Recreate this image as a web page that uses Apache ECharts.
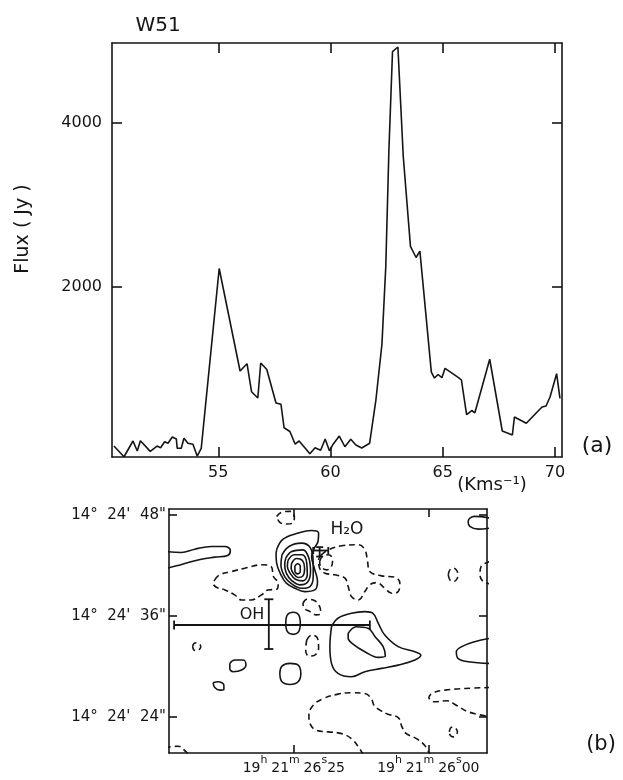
<!DOCTYPE html>
<html>
<head>
<meta charset="utf-8">
<title>W51</title>
<script src="https://cdn.jsdelivr.net/npm/echarts@6/dist/echarts.min.js"></script>
<style>
  html, body { margin: 0; padding: 0; background: #fff; }
  #main { width: 623px; height: 780px; }
</style>
</head>
<body>
<div id="main"></div>
<script type="text/javascript">
// ---- (a) spectrum: velocity (km/s) vs flux (Jy) ----
var velocity = [50.35,50.80,51.20,51.39,51.53,51.97,52.27,52.43,52.61,52.76,
                52.95,53.13,53.17,53.35,53.47,53.65,53.87,54.06,54.24,55.04,
                55.97,56.28,56.48,56.76,56.89,57.16,57.57,57.79,57.93,58.19,
                58.42,58.60,59.08,59.31,59.56,59.76,59.95,60.09,60.15,60.39,
                60.64,60.90,61.13,61.39,61.74,62.02,62.29,62.46,62.60,62.76,
                63.00,63.24,63.56,63.81,63.98,64.49,64.63,64.79,64.96,65.10,
                65.70,65.83,66.06,66.29,66.43,67.09,67.65,68.10,68.19,68.72,
                69.42,69.60,69.78,70.07,70.22];
var flux = [61,-70,122,0,126,-4,61,40,113,94,
            171,146,33,33,155,94,82,-61,33,2226,
            976,1065,723,646,1073,994,585,571,284,238,
            85,122,-33,39,9,146,2,73,94,183,
            52,143,73,37,94,622,1305,2248,3671,4870,
            4927,3589,2496,2360,2437,963,890,933,894,1008,
            896,866,444,494,466,1119,244,195,415,338,
            537,549,662,943,643];
var velTicks = [55, 60, 65, 70];
var fluxTicks = [2000, 4000];

// ---- (b) map: RA seconds (19h21m..s) vs Dec arcsec (14d24'..") ----
var raTicks = [26.25, 26.00];
var decTicks = [24, 36, 48];

// solid (positive) contours, closed
var solidClosed = [
  [[26.282,43.83],[26.270,45.10],[26.242,45.82],[26.217,46.13],[26.204,45.82],[26.205,44.83],[26.212,44.03],[26.217,43.04],[26.211,41.45],[26.206,40.06],[26.211,39.07],[26.230,38.87],[26.248,39.27],[26.264,39.87],[26.274,40.86],[26.282,42.25],[26.283,43.24]],
  [[26.272,43.24],[26.259,44.23],[26.236,44.63],[26.219,44.03],[26.214,42.25],[26.214,40.66],[26.220,39.47],[26.236,39.27],[26.254,39.79],[26.267,40.66],[26.274,42.05]],
  [[26.265,42.84],[26.254,43.63],[26.233,43.83],[26.222,42.84],[26.219,41.25],[26.225,39.94],[26.239,39.67],[26.254,40.18],[26.264,41.06],[26.267,42.05]],
  [[26.261,42.56],[26.249,43.24],[26.235,43.24],[26.226,42.25],[26.225,40.86],[26.233,40.14],[26.247,40.34],[26.257,41.06],[26.262,41.85]],
  [[26.254,42.25],[26.245,42.80],[26.234,42.56],[26.230,41.65],[26.233,40.74],[26.242,40.54],[26.251,41.06],[26.255,41.65]],
  [[26.248,41.93],[26.243,42.17],[26.238,41.85],[26.238,41.25],[26.243,40.98],[26.248,41.33]],
  [[26.265,35.10],[26.262,36.10],[26.251,36.41],[26.241,36.10],[26.238,35.10],[26.241,34.11],[26.251,33.79],[26.262,34.11]],
  [[26.180,34.70],[26.168,35.70],[26.143,36.29],[26.118,36.49],[26.103,36.29],[26.093,35.10],[26.081,33.71],[26.056,32.33],[26.025,31.73],[26.014,31.33],[26.025,30.74],[26.056,30.14],[26.087,29.75],[26.118,29.35],[26.143,28.75],[26.168,29.15],[26.180,30.34],[26.183,32.33]],
  [[26.149,33.91],[26.134,34.70],[26.112,34.51],[26.099,33.52],[26.084,32.33],[26.080,31.21],[26.093,31.06],[26.118,31.73],[26.140,32.64],[26.149,33.32]],
  [[26.369,30.34],[26.360,30.74],[26.344,30.74],[26.339,30.14],[26.347,29.55],[26.363,29.35],[26.369,29.75]],
  [[26.400,28.04],[26.391,28.16],[26.380,27.76],[26.380,27.25],[26.388,27.17],[26.397,27.48]],
  [[26.276,29.15],[26.272,30.02],[26.257,30.34],[26.242,30.14],[26.237,29.15],[26.242,28.16],[26.257,27.84],[26.272,28.16]]
];
// solid contours running off the frame
var solidEdge = [
  [[26.49,43.63],[26.459,43.52],[26.434,43.91],[26.403,44.23],[26.378,44.23],[26.368,43.75],[26.373,43.16],[26.397,42.96],[26.422,42.72],[26.446,42.33],[26.468,41.93],[26.49,41.57]],
  [[25.885,33.32],[25.914,32.92],[25.938,32.33],[25.948,31.73],[25.945,30.94],[25.926,30.54],[25.885,30.34]],
  [[25.885,47.60],[25.914,47.80],[25.926,47.21],[25.923,46.61],[25.907,46.29],[25.885,46.41]]
];
// dashed (negative) contours, closed
var dashedClosed = [
  [[26.282,47.80],[26.273,48.28],[26.257,48.40],[26.249,47.80],[26.251,47.09],[26.264,46.89],[26.276,47.09]],
  [[26.397,40.26],[26.388,40.86],[26.366,41.25],[26.341,41.65],[26.310,42.05],[26.292,41.85],[26.288,40.66],[26.279,39.87],[26.282,39.15],[26.298,39.07],[26.310,38.48],[26.329,37.88],[26.347,37.88],[26.360,38.48],[26.378,39.07],[26.394,39.39],[26.400,39.87]],
  [[26.199,43.24],[26.186,43.83],[26.161,44.31],[26.130,44.43],[26.118,43.83],[26.113,42.44],[26.109,41.25],[26.087,40.74],[26.062,40.58],[26.053,39.87],[26.056,38.87],[26.068,38.67],[26.081,39.27],[26.096,39.94],[26.109,39.67],[26.118,38.87],[26.130,37.88],[26.143,38.28],[26.149,39.47],[26.155,40.46],[26.174,40.86],[26.192,41.06],[26.202,41.65],[26.204,42.64]],
  [[26.202,42.44],[26.197,43.04],[26.186,43.24],[26.178,42.72],[26.180,41.85],[26.189,41.45],[26.200,41.85]],
  [[26.233,37.48],[26.226,37.96],[26.214,37.88],[26.202,37.09],[26.200,36.29],[26.208,36.10],[26.220,36.49],[26.231,36.89]],
  [[26.226,33.12],[26.217,33.71],[26.206,33.32],[26.204,32.13],[26.211,31.33],[26.222,31.21],[26.228,31.93]],
  [[26.438,32.33],[26.436,32.68],[26.431,32.80],[26.426,32.68],[26.423,32.33],[26.426,31.97],[26.431,31.85],[26.436,31.97]],
  [[25.963,40.86],[25.960,41.45],[25.954,41.65],[25.948,41.45],[25.945,40.86],[25.948,40.26],[25.954,40.06],[25.960,40.26]],
  [[25.961,22.21],[25.959,22.64],[25.954,22.80],[25.949,22.64],[25.946,22.21],[25.949,21.77],[25.954,21.61],[25.959,21.77]]
];
// dashed contours running off the frame
var dashedEdge = [
  [[25.885,42.44],[25.902,41.85],[25.904,40.86],[25.898,40.06],[25.885,39.79]],
  [[26.121,19.5],[26.130,20.42],[26.143,21.41],[26.161,22.0],[26.186,22.21],[26.208,22.40],[26.220,23.20],[26.222,24.19],[26.214,25.38],[26.195,26.17],[26.168,26.69],[26.143,26.85],[26.118,26.77],[26.106,26.17],[26.101,25.38],[26.090,24.79],[26.075,24.31],[26.056,23.91],[26.049,22.80],[26.041,22.0],[26.022,21.41],[26.007,20.62],[25.997,19.5]],
  [[25.885,27.48],[25.932,27.36],[25.969,27.17],[25.991,26.85],[25.999,26.29],[25.989,25.78],[25.966,25.90],[25.948,25.38],[25.926,24.59],[25.885,23.99]],
  [[26.49,20.34],[26.465,20.50],[26.450,19.82],[26.446,19.5]]
];
// maser positions with error bars: [low, centre, high]
var ohRa = [26.1087, 26.2965, 26.4725];
var ohDec = [32.05, 34.90, 37.96];
var h2oRa = [26.186, 26.202, 26.214];
var h2oDec = [43.04, 43.75, 44.15];

var FONT = 'DejaVu Sans';
var INK = '#151515';

function closeLoop(pts) {
    return pts.concat([pts[0]]);
}

var myChart = echarts.init(document.getElementById('main'), null, {renderer: 'canvas'});

function frameAxis(gridIndex, pos, min, max, ticks, len, extra) {
    var ax = {
        type: 'value', gridIndex: gridIndex, position: pos,
        min: min, max: max,
        axisLine: {show: true, onZero: false, lineStyle: {color: INK, width: 1.6}},
        axisTick: {show: true, inside: true, length: len, customValues: ticks, lineStyle: {color: INK, width: 1.6}},
        axisLabel: {show: false},
        splitLine: {show: false}
    };
    for (var k in extra) { ax[k] = extra[k]; }
    return ax;
}

var series = [];
series.push({
    type: 'line', xAxisIndex: 0, yAxisIndex: 0,
    data: velocity.map(function (v, i) { return [v, flux[i]]; }),
    symbol: 'none', lineStyle: {color: INK, width: 1.6}
});

function addContours(list, closed, dash) {
    list.forEach(function (c) {
        series.push({
            type: 'line', xAxisIndex: 2, yAxisIndex: 2,
            data: closed ? closeLoop(c) : c,
            smooth: 0.4, symbol: 'none', clip: true,
            lineStyle: {color: INK, width: 1.6, type: dash ? [6, 4] : 'solid'}
        });
    });
}
addContours(solidClosed, true, false);
addContours(solidEdge, false, false);
addContours(dashedClosed, true, true);
addContours(dashedEdge, false, true);

function errorBars(ra, dec, cap) {
    series.push({
        type: 'line', xAxisIndex: 2, yAxisIndex: 2,
        data: [[ra[0], dec[1]], [ra[2], dec[1]]],
        symbol: 'rect', symbolSize: [1.8, cap], showSymbol: true,
        itemStyle: {color: INK}, lineStyle: {color: INK, width: 1.8}
    });
    series.push({
        type: 'line', xAxisIndex: 2, yAxisIndex: 2,
        data: [[ra[1], dec[0]], [ra[1], dec[2]]],
        symbol: 'rect', symbolSize: [cap, 1.8], showSymbol: true,
        itemStyle: {color: INK}, lineStyle: {color: INK, width: 1.8}
    });
}
errorBars(ohRa, ohDec, 9);
errorBars(h2oRa, h2oDec, 7);

var option = {
    backgroundColor: '#fff',
    animation: false,
    textStyle: {fontFamily: FONT, color: INK},
    grid: [
        {left: 112, top: 43, width: 450, height: 414, outerBoundsMode: 'none'},
        {left: 169, top: 509, width: 318, height: 244, outerBoundsMode: 'none'}
    ],
    xAxis: [
        frameAxis(0, 'bottom', 50.265, 70.31, velTicks, 10, {
            axisLabel: {show: true, customValues: velTicks, margin: 8, fontSize: 16, fontFamily: FONT, color: INK,
                        formatter: function (v) { return String(v); }}
        }),
        frameAxis(0, 'top', 50.265, 70.31, velTicks, 10, {}),
        frameAxis(1, 'bottom', 25.891, 26.482, raTicks, 8, {
            inverse: true,
            axisLabel: {
                show: true, customValues: raTicks, margin: 2,
                formatter: function (v) {
                    var p = v.toFixed(2).split('.');
                    return '{n|19}{s|h} {n|21}{s|m} {n|' + p[0] + '}{s|s}{n|' + p[1] + '}';
                },
                rich: {
                    n: {fontSize: 14, fontFamily: FONT, color: INK, lineHeight: 20, verticalAlign: 'bottom'},
                    s: {fontSize: 11, fontFamily: FONT, color: INK, lineHeight: 20, verticalAlign: 'top'}
                }
            }
        }),
        frameAxis(1, 'top', 25.891, 26.482, raTicks, 8, {inverse: true})
    ],
    yAxis: [
        frameAxis(0, 'left', -73, 4976, fluxTicks, 10, {
            axisLabel: {show: true, customValues: fluxTicks, margin: 10, fontSize: 16, fontFamily: FONT, color: INK,
                        formatter: function (v) { return String(v); }}
        }),
        frameAxis(0, 'right', -73, 4976, fluxTicks, 10, {}),
        frameAxis(1, 'left', 19.7, 48.68, decTicks, 8, {
            axisLabel: {
                show: true, customValues: decTicks, margin: 3, fontSize: 15, fontFamily: FONT, color: INK,
                formatter: function (v) { return '14°  24\'  ' + v + '"'; }
            }
        }),
        frameAxis(1, 'right', 19.7, 48.68, decTicks, 8, {})
    ],
    graphic: [
        {type: 'text', x: 158, y: 26, style: {text: 'W51', fontSize: 20, fontFamily: FONT, fill: INK, align: 'center', verticalAlign: 'middle'}},
        {type: 'text', x: 23, y: 229, rotation: Math.PI / 2, style: {text: 'Flux ( Jy )', fontSize: 19, fontFamily: FONT, fill: INK, align: 'center', verticalAlign: 'middle'}},
        {type: 'text', x: 492, y: 485, style: {text: '(Kms\u207B\u00B9)', fontSize: 18, fontFamily: FONT, fill: INK, align: 'center', verticalAlign: 'middle'}},
        {type: 'text', x: 597, y: 446, style: {text: '(a)', fontSize: 22, fontFamily: FONT, fill: INK, align: 'center', verticalAlign: 'middle'}},
        {type: 'text', x: 601, y: 745, style: {text: '(b)', fontSize: 21, fontFamily: FONT, fill: INK, align: 'center', verticalAlign: 'middle'}},
        {type: 'text', x: 347, y: 530, style: {text: 'H\u2082O', fontSize: 17, fontFamily: FONT, fill: INK, align: 'center', verticalAlign: 'middle'}},
        {type: 'text', x: 252, y: 615, style: {text: 'OH', fontSize: 16, fontFamily: FONT, fill: INK, align: 'center', verticalAlign: 'middle'}}
    ],
    series: series
};
myChart.setOption(option);
</script>
</body>
</html>
